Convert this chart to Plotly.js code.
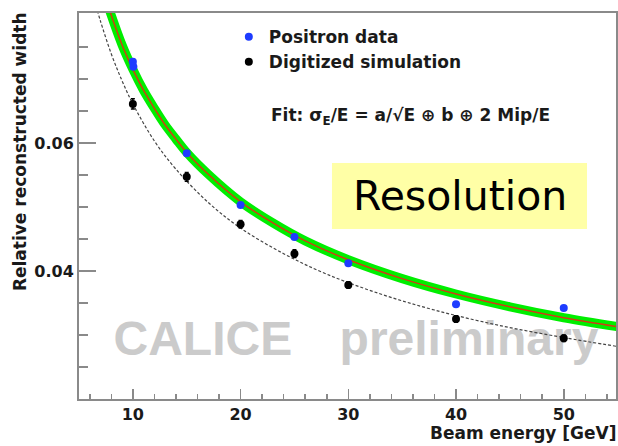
<!DOCTYPE html>
<html>
<head>
<meta charset="utf-8">
<script src="https://cdn.plot.ly/plotly-3.0.1.min.js"></script>
<style>html,body{margin:0;padding:0;background:#fff;}#chart{width:618px;height:446px;}</style>
</head>
<body>
<div id="chart"></div>
<script>
// Measured data points
var energyPos = [10, 10.05, 15, 20, 25, 30, 40, 50];
var widthPos  = [0.0727, 0.0719, 0.0584, 0.0503, 0.0453, 0.0412, 0.0348, 0.0342];
var energySim = [10, 15, 20, 25, 30, 40, 50];
var widthSim  = [0.0661, 0.0547, 0.0473, 0.0427, 0.0378, 0.0325, 0.0295];
var errSim    = [0.0008, 0.0007, 0.0006, 0.0006, 0.0005, 0.0005, 0.0005];
// Fit curves
var fitDataE = [7.8, 9, 10, 11, 12, 13, 14, 15, 17, 20, 23, 26, 30, 35, 40, 45, 50, 55];
var fitDataW = [0.0809, 0.0753, 0.0715, 0.0682, 0.0654, 0.0628, 0.0606, 0.0585, 0.0551, 0.0508, 0.0475, 0.0447, 0.04175, 0.0388, 0.0364, 0.0344, 0.0327, 0.0313];
var fitSimE  = [6.7, 7, 8, 9, 10, 12, 14, 17, 20, 24, 28, 33, 38, 44, 50, 55];
var fitSimW  = [0.0807, 0.0790, 0.0739, 0.0697, 0.0661, 0.0603, 0.0559, 0.0507, 0.0467, 0.0427, 0.0395, 0.0364, 0.0339, 0.0315, 0.0296, 0.0282];
// Axis ticks
var xTickVals = [10, 20, 30, 40, 50];
var yTickVals = [0.04, 0.06];
var yTickText = ['0.04', '0.06'];
var yMinorVals = [0.025, 0.03, 0.035, 0.045, 0.05, 0.055, 0.065, 0.07, 0.075];
// Watermark text
var wmText = ['CALICE', 'preliminary'];
var wmE = [16.5, 41.2];
var wmW = [0.0288, 0.0288];

var rootFont = 'DejaVu Sans, sans-serif';
var txt = '#1a1a1a';
var axisCol = '#8a8a8a';

var traces = [
  {x: wmE, y: wmW, mode: 'text', text: wmText, textposition: 'middle center',
   textfont: {family: 'Liberation Sans, Arial, sans-serif', size: 48, color: '#cbcbcb', weight: 'bold'},
   showlegend: false, hoverinfo: 'skip', cliponaxis: false},
  {x: fitDataE, y: fitDataW, mode: 'lines', line: {color: '#00ee00', width: 9, shape: 'spline'},
   showlegend: false, hoverinfo: 'skip'},
  {x: fitDataE, y: fitDataW, mode: 'lines', line: {color: '#d03c14', width: 1.5, shape: 'spline'},
   showlegend: false, hoverinfo: 'skip'},
  {x: fitSimE, y: fitSimW, mode: 'lines', line: {color: '#444444', width: 1.2, dash: '3px,2px', shape: 'spline'},
   showlegend: false, hoverinfo: 'skip'},
  {x: energyPos, y: widthPos, mode: 'markers', name: 'Positron data', legendgroup: 'a',
   marker: {color: '#1e3cff', size: 8}},
  {x: energySim, y: widthSim, mode: 'markers', name: 'Digitized simulation', legendgroup: 'b',
   marker: {color: '#000000', size: 8},
   error_y: {type: 'data', array: errSim, visible: true, color: '#000', thickness: 1.5, width: 2}}
];

var layout = {
  width: 618, height: 446,
  margin: {l: 79, r: 2, t: 13, b: 47},
  paper_bgcolor: '#ffffff', plot_bgcolor: '#ffffff',
  showlegend: true,
  legend: {x: 0.279, y: 0.984, xanchor: 'left', yanchor: 'top', bgcolor: 'rgba(0,0,0,0)',
           font: {family: rootFont, size: 17, color: txt, weight: 'bold'},
           traceorder: 'grouped', tracegroupgap: 0},
  xaxis: {range: [5, 54.85], showgrid: false, zeroline: false,
          showline: true, linecolor: axisCol, linewidth: 2, mirror: true,
          tickmode: 'array', tickvals: xTickVals,
          ticks: 'inside', ticklen: 10, tickwidth: 1.5, tickcolor: axisCol,
          minor: {dtick: 2, tick0: 0, ticks: 'inside', ticklen: 5, tickwidth: 1.5, tickcolor: axisCol},
          tickfont: {family: rootFont, size: 16, color: txt, weight: 'bold'}},
  yaxis: {range: [0.02, 0.0803], showgrid: false, zeroline: false,
          showline: true, linecolor: axisCol, linewidth: 2, mirror: true,
          tickmode: 'array', tickvals: yTickVals, ticktext: yTickText,
          ticks: 'inside', ticklen: 17, tickwidth: 1.5, tickcolor: axisCol,
          minor: {tickmode: 'array', tickvals: yMinorVals, ticks: 'inside', ticklen: 9, tickwidth: 1.5, tickcolor: axisCol},
          tickfont: {family: rootFont, size: 16, color: txt, weight: 'bold'}},
  shapes: [
    {type: 'rect', xref: 'paper', yref: 'paper', x0: 0.4711, x1: 0.946, y0: 0.4404, y1: 0.6114,
     fillcolor: '#ffffa6', line: {width: 0}, layer: 'below'}
  ],
  annotations: [
    {xref: 'paper', yref: 'paper', x: 0.7086, y: 0.526, xanchor: 'center', yanchor: 'middle',
     text: 'Resolution', showarrow: false, font: {family: 'DejaVu Sans, sans-serif', size: 41, color: '#000'}},
    {xref: 'paper', yref: 'paper', x: 0.354, y: 0.7306, xanchor: 'left', yanchor: 'middle',
     text: 'Fit: σ<sub>E</sub>/E = a/√E ⊕ b ⊕ 2 Mip/E', showarrow: false,
     font: {family: rootFont, size: 17, color: txt, weight: 'bold'}},
    {xref: 'paper', yref: 'paper', x: 1, y: -0.088, xanchor: 'right', yanchor: 'middle', xshift: 3,
     text: 'Beam energy [GeV]', showarrow: false,
     font: {family: rootFont, size: 17, color: txt, weight: 'bold'}},
    {xref: 'paper', yref: 'paper', x: -0.11, y: 0.642, xanchor: 'center', yanchor: 'middle', textangle: -90,
     text: 'Relative reconstructed width', showarrow: false,
     font: {family: rootFont, size: 17, color: txt, weight: 'bold'}}
  ]
};

Plotly.newPlot('chart', traces, layout, {displayModeBar: false, staticPlot: true});
</script>
</body>
</html>
